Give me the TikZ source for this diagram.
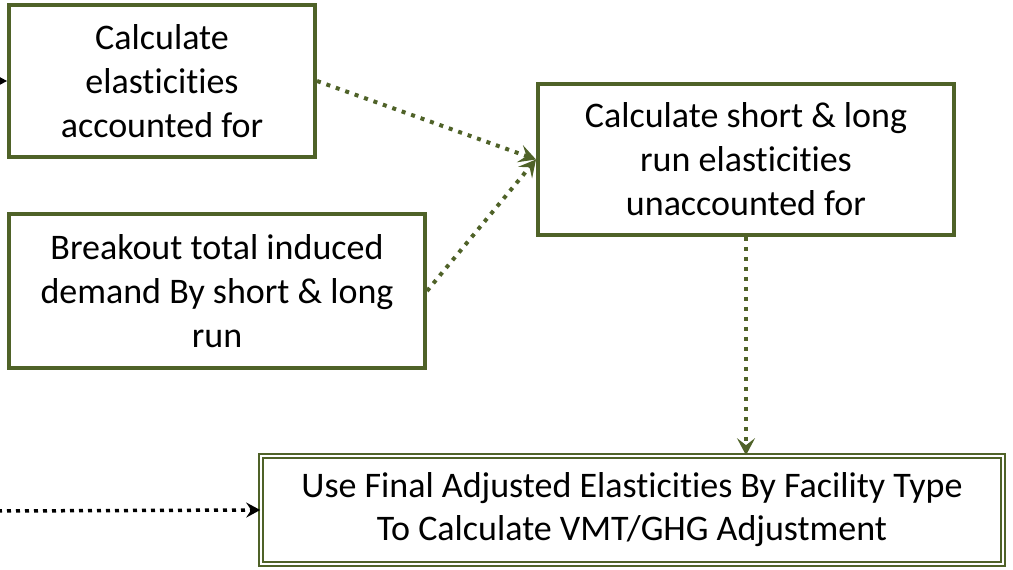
\documentclass[tikz,border=0pt]{standalone}
\usepackage{fontspec}
\setmainfont{Carlito}[Ligatures=NoCommon]
\usetikzlibrary{arrows.meta}
\definecolor{olive}{HTML}{4F6228}
\begin{document}
\begin{tikzpicture}[x=1pt,y=1pt,
  box/.style={draw=olive, line width=4pt, fill=white, inner sep=0pt, align=center,
    font=\fontsize{36}{44}\selectfont},
  dbox/.style={draw=olive, line width=1.6pt, double=white, double distance=2.6pt, fill=white,
    inner sep=0pt, align=center, font=\fontsize{36}{43}\selectfont},
  garrow/.style={draw=olive, line width=4pt, dash pattern=on 4pt off 6pt,
    -{Stealth[length=17pt,width=18pt,inset=7pt]}},
  karrow/.style={draw=black, line width=3.5pt, dash pattern=on 4pt off 5pt,
    -{Stealth[length=14pt,width=15pt,inset=5pt]}},
  ]
\useasboundingbox (0,0) rectangle (1013,570);
\clip (0,0) rectangle (1013,570);
\node[box, minimum width=306pt, minimum height=152pt] (b1) at (162,489)
  {Calculate\\elasticities\\accounted for};
\node[box, minimum width=416pt, minimum height=154pt] (b2) at (217,279)
  {Breakout total induced\\demand By short \& long\\run};
\node[box, minimum width=416pt, minimum height=151pt] (b3) at (746,410.5)
  {Calculate short \& long\\run elasticities\\unaccounted for};
\node[dbox, minimum width=742pt, minimum height=108pt] (b4) at (632,60)
  {Use Final Adjusted Elasticities By Facility Type\\To Calculate VMT/GHG Adjustment};
\coordinate (in1) at (-20,489);
\coordinate (in4) at (-2,59);
\draw[karrow, solid] (in1) -- (b1.west);
\draw[garrow] (b1.east) -- (b3.west);
\draw[garrow] (b2.east) -- (b3.west);
\draw[garrow] (b3.south) -- (b3.south |- b4.north);
\draw[karrow] (in4) -- (b4.west);
\end{tikzpicture}
\end{document}
